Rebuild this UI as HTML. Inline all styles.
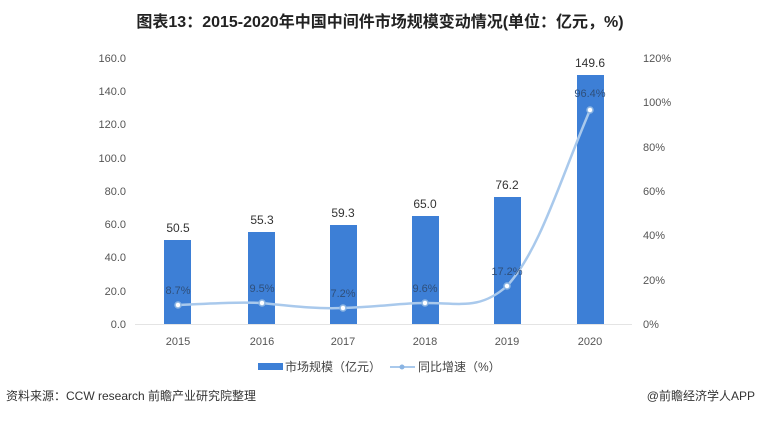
<!DOCTYPE html>
<html><head><meta charset="utf-8"><style>
body{margin:0;background:#fff;}
svg text{font-family:"Liberation Sans","Noto Sans CJK SC",sans-serif;}
</style></head><body>
<svg width="760" height="417" viewBox="0 0 760 417" xmlns="http://www.w3.org/2000/svg">
<text x="380" y="27" text-anchor="middle" font-size="16" font-weight="bold" fill="#222">图表13：2015-2020年中国中间件市场规模变动情况(单位：亿元，%)</text>
<g font-size="11" fill="#555" text-anchor="end">
<text x="126" y="328">0.0</text><text x="126" y="295">20.0</text><text x="126" y="261">40.0</text><text x="126" y="228">60.0</text><text x="126" y="195">80.0</text><text x="126" y="162">100.0</text><text x="126" y="128">120.0</text><text x="126" y="95">140.0</text><text x="126" y="62">160.0</text>
</g>
<g font-size="11" fill="#555" text-anchor="start">
<text x="643" y="328">0%</text><text x="643" y="284">20%</text><text x="643" y="239">40%</text><text x="643" y="195">60%</text><text x="643" y="151">80%</text><text x="643" y="106">100%</text><text x="643" y="62">120%</text>
</g>
<line x1="135" y1="324.5" x2="632" y2="324.5" stroke="#e4e4e4"/>
<g fill="#3d7fd6">
<rect x="164" y="240" width="27" height="84"/>
<rect x="248" y="232" width="27" height="92"/>
<rect x="330" y="225" width="27" height="99"/>
<rect x="412" y="216" width="27" height="108"/>
<rect x="494" y="197" width="27" height="127"/>
<rect x="577" y="75" width="27" height="249"/>
</g>
<g font-size="12" fill="#333" text-anchor="middle">
<text x="178" y="232">50.5</text><text x="262" y="224">55.3</text><text x="343" y="217">59.3</text><text x="425" y="208">65.0</text><text x="507" y="189">76.2</text><text x="590" y="67">149.6</text>
</g>
<path d="M178,305 C220,303 240,302 262,303 C300,307 320,309 343,308 C380,307 400,303 425,303 C460,303 480,310 507,286 C540,250 560,180 590,110" fill="none" stroke="#a9c9ec" stroke-width="2.5"/>
<g fill="#fff" stroke="#8ab4e3" stroke-width="1.5"><circle cx="178" cy="305" r="3"/><circle cx="262" cy="303" r="3"/><circle cx="343" cy="308" r="3"/><circle cx="425" cy="303" r="3"/><circle cx="507" cy="286" r="3"/><circle cx="590" cy="110" r="3"/></g>
<g font-size="11" fill="#2f4f7a" text-anchor="middle">
<text x="178" y="294">8.7%</text><text x="262" y="292">9.5%</text><text x="343" y="297">7.2%</text><text x="425" y="292">9.6%</text><text x="507" y="275">17.2%</text><text x="590" y="97">96.4%</text>
</g>
<g font-size="11" fill="#555" text-anchor="middle">
<text x="178" y="345">2015</text><text x="262" y="345">2016</text><text x="343" y="345">2017</text><text x="425" y="345">2018</text><text x="507" y="345">2019</text><text x="590" y="345">2020</text>
</g>
<rect x="258" y="363" width="25" height="7" fill="#3d7fd6"/>
<text x="285" y="371" font-size="12" fill="#444">市场规模（亿元）</text>
<line x1="390" y1="367" x2="415" y2="367" stroke="#a9c9ec" stroke-width="2"/>
<circle cx="402" cy="367" r="2.5" fill="#8ab4e3"/>
<text x="418" y="371" font-size="12" fill="#444">同比增速（%）</text>
<text x="6" y="400" font-size="12" fill="#333">资料来源：CCW research 前瞻产业研究院整理</text>
<text x="755" y="400" font-size="12" fill="#333" text-anchor="end">@前瞻经济学人APP</text>
</svg>
</body></html>
